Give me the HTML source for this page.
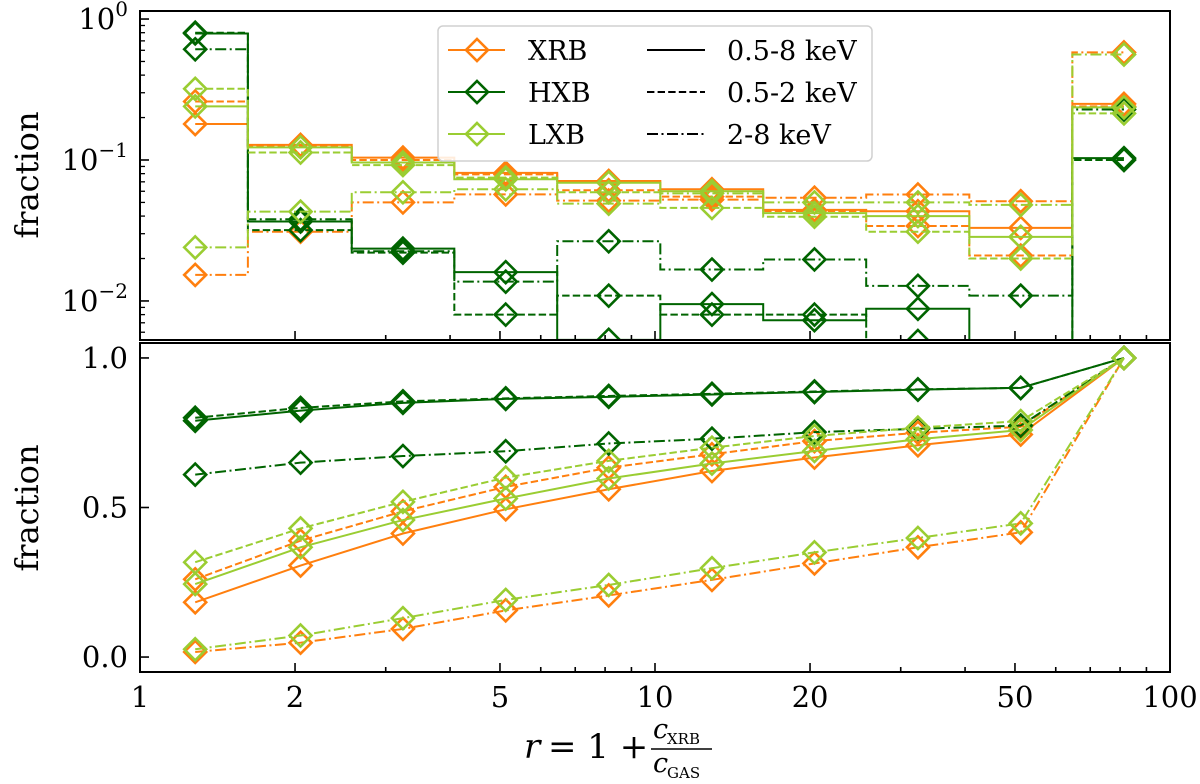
<!DOCTYPE html>
<html><head><meta charset="utf-8"><style>
html,body{margin:0;padding:0;background:#fff;}
svg{display:block;font-family:"DejaVu Serif","Liberation Serif",serif;}
</style></head><body>
<svg id="chart" width="1200" height="784" viewBox="0 0 1200 784" xmlns="http://www.w3.org/2000/svg">
<defs>
<clipPath id="clipTop"><rect x="140" y="11" width="1030" height="329"/></clipPath>
<clipPath id="clipBot"><rect x="140" y="343" width="1030" height="329"/></clipPath>
</defs>
<g id="topPlot"></g>
<g id="botPlot"></g>
<g id="axes"></g>
<text x="38" y="175" font-size="32" text-anchor="middle" transform="rotate(-90 38 175)">fraction</text>
<text x="38" y="508" font-size="32" text-anchor="middle" transform="rotate(-90 38 508)">fraction</text>
<g font-size="34">
<text x="524" y="758" font-style="italic">r</text>
<text x="548" y="758">= 1 +</text>
<text x="653" y="738" font-size="27" font-style="italic">c</text>
<text x="667" y="744" font-size="15">XRB</text>
<line x1="651" y1="749" x2="712" y2="749" stroke="#000" stroke-width="1.5"/>
<text x="653" y="772" font-size="27" font-style="italic">c</text>
<text x="667" y="778" font-size="15">GAS</text>
</g>
<g id="legend"></g>
</svg>
<script>
const xCenters = [1.28, 2.05, 3.24, 5.13, 8.13, 12.9, 20.4, 32.4, 51.3, 81.4];
// top panel: per-bin fractions
const topXrbSolid = [0.18, 0.128, 0.104, 0.081, 0.071, 0.062, 0.0443, 0.0433, 0.033, 0.25];
const topXrbDashed = [0.26, 0.125, 0.100, 0.079, 0.061, 0.055, 0.0435, 0.034, 0.021, 0.24];
const topXrbDashdot = [0.0153, 0.031, 0.050, 0.057, 0.0515, 0.0523, 0.054, 0.0569, 0.051, 0.58];
const topHxbSolid = [0.79, 0.0366, 0.0235, 0.016, 0.0053, 0.0095, 0.0073, 0.0088, 0.003, 0.103];
const topHxbDashed = [0.80, 0.0318, 0.022, 0.008, 0.0109, 0.008, 0.008, 0.0052, 0.003, 0.10];
const topHxbDashdot = [0.61, 0.038, 0.0225, 0.0137, 0.0265, 0.0167, 0.0197, 0.0128, 0.0109, 0.228];
const topLxbSolid = [0.24, 0.123, 0.096, 0.073, 0.069, 0.060, 0.042, 0.040, 0.0285, 0.236];
const topLxbDashed = [0.32, 0.113, 0.092, 0.075, 0.059, 0.0457, 0.0396, 0.031, 0.020, 0.214];
const topLxbDashdot = [0.024, 0.043, 0.059, 0.062, 0.049, 0.058, 0.050, 0.050, 0.048, 0.56];
// bottom panel: cumulative fractions
const botXrbSolid = [0.183, 0.306, 0.413, 0.494, 0.561, 0.622, 0.667, 0.708, 0.744, 1.0];
const botXrbDashed = [0.26, 0.389, 0.487, 0.569, 0.633, 0.678, 0.722, 0.75, 0.77, 1.0];
const botXrbDashdot = [0.017, 0.048, 0.094, 0.156, 0.206, 0.258, 0.313, 0.367, 0.417, 1.0];
const botHxbSolid = [0.79, 0.824, 0.85, 0.863, 0.87, 0.878, 0.886, 0.894, 0.90, 1.0];
const botHxbDashed = [0.80, 0.833, 0.855, 0.865, 0.873, 0.88, 0.888, 0.895, 0.90, 1.0];
const botHxbDashdot = [0.61, 0.65, 0.672, 0.688, 0.714, 0.73, 0.752, 0.763, 0.774, 1.0];
const botLxbSolid = [0.244, 0.367, 0.458, 0.53, 0.597, 0.647, 0.689, 0.728, 0.759, 1.0];
const botLxbDashed = [0.317, 0.43, 0.519, 0.60, 0.656, 0.70, 0.739, 0.767, 0.789, 1.0];
const botLxbDashdot = [0.026, 0.072, 0.13, 0.191, 0.241, 0.297, 0.35, 0.398, 0.447, 1.0];
const xTickLabels = ["1", "2", "5", "10", "20", "50", "100"];
const xTickValues = [1, 2, 5, 10, 20, 50, 100];
const botTickValues = [0.0, 0.5, 1.0];
const botTickLabels = ["0.0", "0.5", "1.0"];
const topTickExps = ["0", "−1", "−2"];
const topTickValues = [1, 0.1, 0.01];

const NS = "http://www.w3.org/2000/svg";
const X0 = 140, X1 = 1170;
function xs(v){ return X0 + Math.log10(v) / 2 * (X1 - X0); }
const TT = 11, TB = 340, topLogMax = 0.057, topLogMin = -2.277;
function yt(v){ return TT + (topLogMax - Math.log10(v)) / (topLogMax - topLogMin) * (TB - TT); }
const BT = 343, BB = 672;
function yb(v){ return BT + (1.05 - v) / 1.1 * (BB - BT); }
const C = {XRB: "#ff7f0e", HXB: "#006400", LXB: "#9acd32"};
const DASH = {solid: "", dashed: "7.4,3.2", dashdot: "11,3.5,2,3.5"};
function mk(tag, attrs, parent){ const e = document.createElementNS(NS, tag); for (const k in attrs) e.setAttribute(k, attrs[k]); parent.appendChild(e); return e; }
function diamond(x, y, col, parent){
  const s = 11;
  const d = mk("path", {d: `M${x} ${y-s}L${x+s} ${y}L${x} ${y+s}L${x-s} ${y}Z`, fill: "none", stroke: col, "stroke-width": 2.6}, parent);
  
  
}
const topG = document.getElementById("topPlot");
const botG = document.getElementById("botPlot");
const tClip = mk("g", {"clip-path": "url(#clipTop)"}, topG);
const bClip = mk("g", {"clip-path": "url(#clipBot)"}, botG);

const series = [
  ["XRB","solid",topXrbSolid,botXrbSolid],["XRB","dashed",topXrbDashed,botXrbDashed],["XRB","dashdot",topXrbDashdot,botXrbDashdot],
  ["HXB","solid",topHxbSolid,botHxbSolid],["HXB","dashed",topHxbDashed,botHxbDashed],["HXB","dashdot",topHxbDashdot,botHxbDashdot],
  ["LXB","solid",topLxbSolid,botLxbSolid],["LXB","dashed",topLxbDashed,botLxbDashed],["LXB","dashdot",topLxbDashdot,botLxbDashdot]
];
series.forEach(([name, style, tv, bv]) => {
  const col = C[name];
  const px = xCenters.map(xs), py = tv.map(yt);
  let d = `M${px[0]} ${py[0]}`;
  for (let i = 1; i < px.length; i++){ const m = (px[i-1] + px[i]) / 2; d += `H${m}V${py[i]}`; }
  d += `H${px[px.length-1]}`;
  const p = mk("path", {d, fill: "none", stroke: col, "stroke-width": 2, "stroke-dasharray": DASH[style]}, tClip);
  
  
  px.forEach((x, i) => diamond(x, py[i], col, tClip));
  const bx = xCenters.map(xs), by = bv.map(yb);
  const l = mk("polyline", {points: bx.map((x, i) => `${x},${by[i]}`).join(" "), fill: "none", stroke: col, "stroke-width": 2, "stroke-dasharray": DASH[style]}, bClip);
  
  
  bx.forEach((x, i) => diamond(x, by[i], col, bClip));
});

const ax = document.getElementById("axes");
[[TT, TB], [BT, BB]].forEach(([t, b], k) => {
  const r = mk("rect", {x: X0, y: t, width: X1 - X0, height: b - t, fill: "none", stroke: "#000", "stroke-width": 2}, ax);
  
  
  for (let dec = 0; dec < 2; dec++) for (let m = 1; m <= 9; m++){
    const v = Math.pow(10, dec) * m; const x = xs(v);
    if (m === 1 && dec === 0) continue;
    const major = xTickValues.includes(v);
    const tk = mk("line", {x1: x, x2: x, y1: b, y2: b - (major ? 9 : 5), stroke: "#000", "stroke-width": 1.6}, ax);
    
    
  }
});
xTickValues.forEach((v, i) => {
  const t = mk("text", {x: xs(v), y: 707, "font-size": 29, "text-anchor": "middle"}, ax);
  t.textContent = xTickLabels[i];
  
  
});
topTickValues.forEach((v, i) => {
  const y = yt(v);
  const tk = mk("line", {x1: X0, x2: X0 + 9, y1: y, y2: y, stroke: "#000", "stroke-width": 1.6}, ax);
  
  
  const t = mk("text", {x: 128, y: y + 10, "font-size": 29, "text-anchor": "end"}, ax);
  
  
  const base = mk("tspan", {}, t); base.textContent = "10";
  const sup = mk("tspan", {dy: -13, "font-size": 20}, t); sup.textContent = topTickExps[i];
});
for (let e = -3; e <= 0; e++) for (let m = 2; m <= 9; m++){
  const v = m * Math.pow(10, e); const y = yt(v);
  if (y < TT || y > TB) continue;
  const tk = mk("line", {x1: X0, x2: X0 + 5, y1: y, y2: y, stroke: "#000", "stroke-width": 1.3}, ax);
  
  
}
botTickValues.forEach((v, i) => {
  const y = yb(v);
  const tk = mk("line", {x1: X0, x2: X0 + 9, y1: y, y2: y, stroke: "#000", "stroke-width": 1.6}, ax);
  
  
  const t = mk("text", {x: 128, y: y + 10, "font-size": 29, "text-anchor": "end"}, ax);
  t.textContent = botTickLabels[i];
  
  
});

const lg = document.getElementById("legend");
const box = mk("rect", {x: 438, y: 26, width: 434, height: 135, rx: 5, fill: "#fff", "fill-opacity": 0.85, stroke: "#d0d0d0", "stroke-width": 1.5}, lg);


const rowsY = [50, 92, 134];
["XRB", "HXB", "LXB"].forEach((n, i) => {
  const y = rowsY[i];
  const ln = mk("line", {x1: 448, x2: 505, y1: y, y2: y, stroke: C[n], "stroke-width": 2}, lg);
  
  
  diamond(477, y, C[n], lg);
  const t = mk("text", {x: 528, y: y + 10, "font-size": 27}, lg);
  t.textContent = n;
  
  
});
[["solid", "0.5-8 keV"], ["dashed", "0.5-2 keV"], ["dashdot", "2-8 keV"]].forEach(([s, lab], i) => {
  const y = rowsY[i];
  const ln = mk("line", {x1: 647, x2: 705, y1: y, y2: y, stroke: "#000", "stroke-width": 2, "stroke-dasharray": DASH[s]}, lg);
  
  
  const t = mk("text", {x: 727, y: y + 10, "font-size": 27}, lg);
  t.textContent = lab;
  
  
});
</script>
</body></html>
